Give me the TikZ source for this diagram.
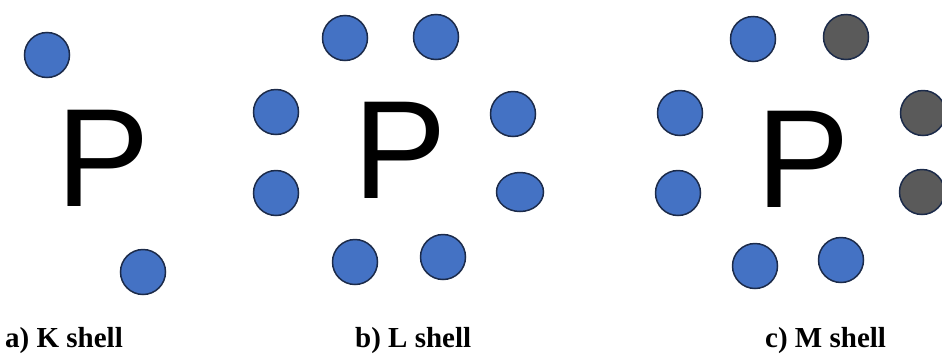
\documentclass[tikz,border=0pt]{standalone}
\usepackage{fontspec}
\setmainfont{Liberation Serif}
\newfontfamily\nucfont{Liberation Sans}
\usetikzlibrary{shapes.geometric}
\usetikzlibrary{positioning}

\definecolor{eblue}{HTML}{4472C4}
\definecolor{egray}{HTML}{5A5A5A}
\definecolor{eline}{HTML}{1C2B4A}

\tikzset{
    electron/.style={circle,draw=eline,line width=1.5pt,fill=eblue,
        minimum size=45pt,inner sep=0pt},
    valence/.style={electron,fill=egray},
    nucleus/.style={font=\nucfont\fontsize{140}{140}\selectfont,inner sep=0pt},
    caption/.style={anchor=base west,inner sep=0pt,
        font=\bfseries\fontsize{29}{29}\selectfont}
}

\begin{document}
\begin{tikzpicture}[x=1pt,y=-1pt]
        \useasboundingbox (0,0) rectangle (942,354);

        % a) K shell
        \node[nucleus] (Pa) at (103,158) {P};
        \begin{scope}[every node/.style={electron}]
            \node (K1) at (47,55) {};
            \node (K2) at (143,272) {};
        \end{scope}

        % b) L shell
        \node[nucleus] (Pb) at (400,150) {P};
        \begin{scope}[every node/.style={electron}]
            \node (L1) at (345,38) {};
            \node (L2) at (436,37) {};
            \node (L3) at (276,112) {};
            \node (L4) at (276,193) {};
            \node (L5) at (513,114) {};
            \node[ellipse,minimum width=47pt,minimum height=39pt] (L6) at (520,192) {};
            \node (L7) at (355,262) {};
            \node (L8) at (443,257) {};
        \end{scope}

        % c) M shell
        \node[nucleus] (Pc) at (803,159) {P};
        \begin{scope}[every node/.style={electron}]
            \node (M1) at (753,39) {};
            \node (M3) at (680,113) {};
            \node (M4) at (678,193) {};
            \node (M7) at (755,266) {};
            \node (M8) at (841,260) {};
        \end{scope}
        \begin{scope}[every node/.style={valence}]
            \node (M2) at (846,37) {};
            \node (M5) at (923,113) {};
            \node (M6) at (922,192) {};
        \end{scope}

        \node[caption] (capa) at (5,347) {a) K shell};
        \node[caption] (capb) at (355,347) {b) L shell};
        \node[caption] (capc) at (765,347) {c) M shell};
    \end{tikzpicture}
\end{document}
